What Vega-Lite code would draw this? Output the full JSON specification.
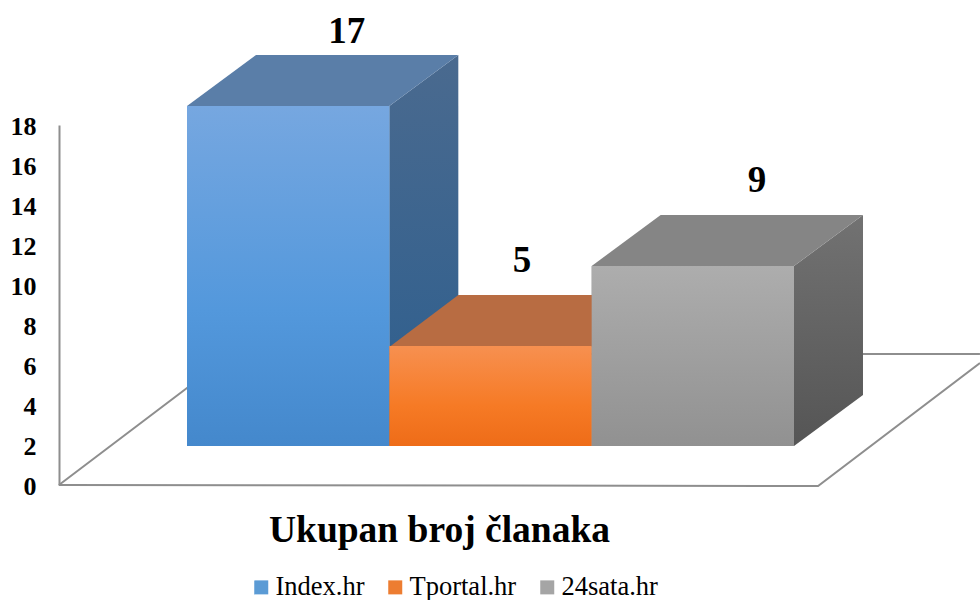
{
"$schema":"https://vega.github.io/schema/vega-lite/v6.json",
"width":607,"height":360,
"autosize":{"type":"none"},
"padding":{"left":187,"top":125,"right":186,"bottom":115},
"background":"white",
"view":{"stroke":null},
"datasets":{
"bars":[{"site":"Index.hr","value":17,"start":0,"end":1},{"site":"Tportal.hr","value":5,"start":1,"end":2},{"site":"24sata.hr","value":9,"start":2,"end":3}],
"labels":[{"value":17,"lx":0.79,"ly":22.65},{"value":5,"lx":1.656,"ly":11.2},{"value":9,"lx":2.817,"ly":15.2}],
"floor":[{"edge":"a","fx":-0.633,"fy":0},{"edge":"a","fx":3.119,"fy":-0.05},{"edge":"a","fx":3.919,"fy":6.1},{"edge":"b","fx":-0.633,"fy":0},{"edge":"b","fx":0.222,"fy":6.55},{"edge":"b","fx":3.919,"fy":6.55}],
"sideA":[{"x":1,"lo":1.95,"hi":18.95},{"x":1.341,"lo":4.5,"hi":21.5}],
"sideB":[{"x":2,"lo":1.95,"hi":6.9},{"x":2.341,"lo":4.5,"hi":9.45}],
"sideC":[{"x":3,"lo":1.95,"hi":10.95},{"x":3.341,"lo":4.5,"hi":13.5}],
"topA":[{"x":0,"lo":18.95,"hi":18.95},{"x":0.341,"lo":18.95,"hi":21.5},{"x":1,"lo":18.95,"hi":21.5},{"x":1.341,"lo":21.5,"hi":21.5}],
"topB":[{"x":1,"lo":6.9,"hi":6.9},{"x":1.341,"lo":6.9,"hi":9.5},{"x":2,"lo":6.9,"hi":9.5},{"x":2.341,"lo":9.5,"hi":9.5}],
"topC":[{"x":2,"lo":10.95,"hi":10.95},{"x":2.341,"lo":10.95,"hi":13.5},{"x":3,"lo":10.95,"hi":13.5},{"x":3.341,"lo":13.5,"hi":13.5}]
},
"config":{"font":"Liberation Serif","axis":{"labelOverlap":false,"labelBound":false,"labelFlush":false}},
"layer":[
{"data":{"name":"floor"},"mark":{"type":"line","color":"#8e8e8e","strokeWidth":2},
"encoding":{"detail":{"field":"edge"},"order":{"field":"fx"},
"x":{"field":"fx","type":"quantitative","scale":{"domain":[0,3],"nice":false,"zero":false},
"axis":{"domain":false,"ticks":false,"labels":false,"grid":false,"title":"Ukupan broj članaka","titleFont":"Liberation Serif","titleFontWeight":"bold","titleFontSize":37.5,"titleColor":"#000","titleX":252,"titleY":56,"titleAlign":"center","titleBaseline":"alphabetic"}},
"y":{"field":"fy","type":"quantitative","scale":{"domain":[0,18],"nice":false,"zero":false},
"axis":{"values":[0,2,4,6,8,10,12,14,16,18],"tickCount":10,"offset":128,"grid":false,"ticks":false,"title":null,"domainColor":"#8e8e8e","domainWidth":2,"labelFont":"Liberation Serif","labelFontWeight":"bold","labelFontSize":26,"labelColor":"#000","labelPadding":23,"labelOffset":1,"labelOverlap":false}}}},
{"data":{"name":"bars"},"mark":{"type":"rect","yOffset":-39,"y2Offset":-39},
"encoding":{"x":{"field":"start","type":"quantitative"},"x2":{"field":"end"},"y":{"field":"value","type":"quantitative"},"y2":{"datum":0},
"color":{"field":"site","type":"nominal","scale":{"domain":["Index.hr","Tportal.hr","24sata.hr"],"range":["#5B9BD5","#ED7D31","#A5A5A5"]},
"legend":{"title":null,"orient":"none","legendX":61,"legendY":449,"direction":"horizontal","columns":3,"symbolType":"square","symbolSize":196,"symbolStrokeWidth":0,"labelFont":"Liberation Serif","labelFontSize":26.5,"labelColor":"#000","labelOffset":1,"columnPadding":17,"labelLimit":200,"padding":0,
"encode":{"symbols":{"update":{"fill":[
{"test":"datum.label==='Index.hr'","value":{"gradient":"linear","x1":0,"y1":0,"x2":0,"y2":1,"stops":[{"offset":0,"color":"#76A7E0"},{"offset":1,"color":"#4488CC"}]}},
{"test":"datum.label==='Tportal.hr'","value":{"gradient":"linear","x1":0,"y1":0,"x2":0,"y2":1,"stops":[{"offset":0,"color":"#F79050"},{"offset":1,"color":"#EE6C18"}]}},
{"value":{"gradient":"linear","x1":0,"y1":0,"x2":0,"y2":1,"stops":[{"offset":0,"color":"#ADADAD"},{"offset":1,"color":"#919191"}]}}
]}}}}}}},
{"data":{"name":"sideA"},"mark":{"type":"area","color":{"gradient":"linear","x1":0,"y1":0,"x2":0,"y2":1,"stops":[{"offset":0,"color":"#4A6A8F"},{"offset":1,"color":"#2C5E8E"}]}},"encoding":{"x":{"field":"x","type":"quantitative"},"y":{"field":"hi","type":"quantitative"},"y2":{"field":"lo"}}},
{"data":{"name":"sideB"},"mark":{"type":"area","color":"#A85E30"},"encoding":{"x":{"field":"x","type":"quantitative"},"y":{"field":"hi","type":"quantitative"},"y2":{"field":"lo"}}},
{"data":{"name":"sideC"},"mark":{"type":"area","color":{"gradient":"linear","x1":0,"y1":0,"x2":0,"y2":1,"stops":[{"offset":0,"color":"#727272"},{"offset":1,"color":"#555555"}]}},"encoding":{"x":{"field":"x","type":"quantitative"},"y":{"field":"hi","type":"quantitative"},"y2":{"field":"lo"}}},
{"data":{"name":"topA"},"mark":{"type":"area","color":"#5A7EA8"},"encoding":{"x":{"field":"x","type":"quantitative"},"y":{"field":"hi","type":"quantitative"},"y2":{"field":"lo"}}},
{"data":{"name":"topB"},"mark":{"type":"area","color":"#B86C42"},"encoding":{"x":{"field":"x","type":"quantitative"},"y":{"field":"hi","type":"quantitative"},"y2":{"field":"lo"}}},
{"data":{"name":"topC"},"mark":{"type":"area","color":"#858585"},"encoding":{"x":{"field":"x","type":"quantitative"},"y":{"field":"hi","type":"quantitative"},"y2":{"field":"lo"}}},
{"data":{"name":"bars"},"transform":[{"filter":"datum.site==='Index.hr'"}],"mark":{"type":"rect","yOffset":-39,"y2Offset":-39,"color":{"gradient":"linear","x1":0,"y1":0,"x2":0,"y2":1,"stops":[{"offset":0,"color":"#76A7E0"},{"offset":0.6,"color":"#5398DC"},{"offset":1,"color":"#4488CC"}]}},
"encoding":{"x":{"field":"start","type":"quantitative"},"x2":{"field":"end"},"y":{"field":"value","type":"quantitative"},"y2":{"datum":0}}},
{"data":{"name":"bars"},"transform":[{"filter":"datum.site==='Tportal.hr'"}],"mark":{"type":"rect","yOffset":-39,"y2Offset":-39,"color":{"gradient":"linear","x1":0,"y1":0,"x2":0,"y2":1,"stops":[{"offset":0,"color":"#F79050"},{"offset":0.6,"color":"#F67A25"},{"offset":1,"color":"#EE6C18"}]}},
"encoding":{"x":{"field":"start","type":"quantitative"},"x2":{"field":"end"},"y":{"field":"value","type":"quantitative"},"y2":{"datum":0}}},
{"data":{"name":"bars"},"transform":[{"filter":"datum.site==='24sata.hr'"}],"mark":{"type":"rect","yOffset":-39,"y2Offset":-39,"color":{"gradient":"linear","x1":0,"y1":0,"x2":0,"y2":1,"stops":[{"offset":0,"color":"#ADADAD"},{"offset":1,"color":"#919191"}]}},
"encoding":{"x":{"field":"start","type":"quantitative"},"x2":{"field":"end"},"y":{"field":"value","type":"quantitative"},"y2":{"datum":0}}},
{"data":{"name":"labels"},"mark":{"type":"text","font":"Liberation Serif","fontWeight":"bold","fontSize":37,"color":"#000","baseline":"middle"},
"encoding":{"x":{"field":"lx","type":"quantitative"},"y":{"field":"ly","type":"quantitative"},"text":{"field":"value","type":"quantitative"}}}
]
}
